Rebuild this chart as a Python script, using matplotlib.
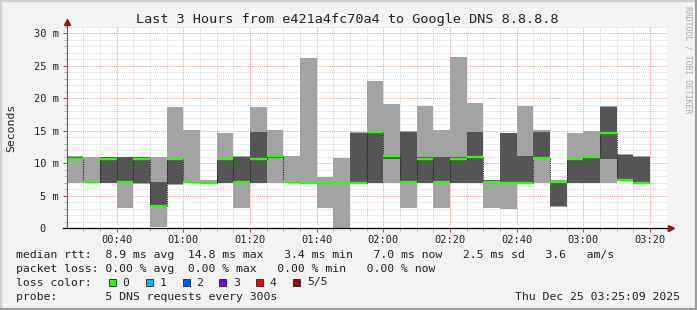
import matplotlib
matplotlib.use("Agg")
import matplotlib.pyplot as plt
from matplotlib.patches import Rectangle
from matplotlib.lines import Line2D

# 5-minute smoke bars, start of first step in minutes after midnight (00:25)
first_step = 25
step = 5
ping_min = [6.9, 7.0, 7.0, 3.1, 6.8, 0.2, 6.7, 7.0, 7.0, 7.0, 3.1, 6.9, 7.0, 7.0, 6.9, 3.1, 0.0, 6.9,
            7.0, 7.0, 3.1, 7.0, 3.1, 7.0, 7.0, 3.1, 2.9, 6.9, 7.0, 3.3, 6.9, 7.0, 7.0, 7.3, 6.9]
ping_lo = [10.6, 7.0, 7.0, 7.0, 6.9, 3.3, 6.8, 7.0, 7.0, 7.0, 7.0, 6.9, 10.8, 7.0, 6.9, 6.9, 6.9, 6.9,
           7.0, 10.6, 7.0, 7.0, 7.0, 7.0, 7.0, 7.0, 6.9, 6.9, 10.7, 3.4, 6.9, 7.0, 10.7, 7.3, 6.9]
median = [10.7, 7.1, 10.7, 7.1, 10.7, 3.4, 10.7, 7.1, 7.0, 10.7, 7.1, 10.7, 11.1, 7.1, 7.0, 7.0, 7.0, 7.0,
          14.8, 11.1, 7.1, 10.7, 7.1, 10.7, 11.0, 7.2, 7.0, 7.0, 10.8, 7.2, 10.7, 11.0, 14.7, 7.4, 7.0]
ping_hi = [10.9, 7.2, 10.9, 10.9, 10.9, 7.1, 10.8, 7.1, 7.1, 10.8, 10.9, 14.8, 11.2, 7.2, 7.1, 7.1, 7.1, 14.7,
           15.0, 11.2, 14.8, 11.0, 11.0, 11.0, 14.8, 7.4, 14.6, 11.1, 14.8, 7.3, 10.8, 11.1, 18.7, 11.3, 11.0]
ping_max = [11.1, 11.0, 11.0, 11.0, 11.0, 11.0, 18.7, 15.1, 7.4, 14.7, 11.1, 18.7, 15.2, 11.1, 26.2, 7.9, 10.8, 14.8,
            22.6, 19.1, 14.9, 18.8, 15.1, 26.4, 19.3, 7.5, 14.7, 18.8, 15.1, 7.4, 14.7, 14.9, 18.8, 11.4, 11.1]

x_major = [40, 60, 80, 100, 120, 140, 160, 180, 200]
x_labels = ["00:40", "01:00", "01:20", "01:40", "02:00", "02:20", "02:40", "03:00", "03:20"]
y_major = [0, 5, 10, 15, 20, 25, 30]
y_labels = ["0  ", "5 m", "10 m", "15 m", "20 m", "25 m", "30 m"]

loss_names = ["0", "1", "2", "3", "4", "5/5"]
loss_colors = ["#26ff00", "#00b8ff", "#0059ff", "#7e00ff", "#ff0000", "#a10000"]

title = "Last 3 Hours from e421a4fc70a4 to Google DNS 8.8.8.8"
legend_lines = [
    "median rtt:  8.9 ms avg  14.8 ms max   3.4 ms min   7.0 ms now   2.5 ms sd   3.6   am/s",
    "packet loss: 0.00 % avg  0.00 % max   0.00 % min   0.00 % now",
    "loss color:",
    "probe:       5 DNS requests every 300s",
]
stamp = "Thu Dec 25 03:25:09 2025"

W, H = 697, 310
mono = "DejaVu Sans Mono"


def fx(px):
    return px / W


def fy(py):
    return 1 - py / H


fig = plt.figure(figsize=(W / 100, H / 100), dpi=100, facecolor="#f3f3f3")
ax = fig.add_axes([fx(67), fy(228.3), 600 / W, 201.5 / H])
ax.set_facecolor("white")

starts = [first_step + step * i for i in range(len(median))]
light_h = [b - a for a, b in zip(ping_min, ping_max)]
dark_h = [b - a for a, b in zip(ping_lo, ping_hi)]
ax.bar(starts, light_h, bottom=ping_min, width=step, align="edge", color="#a3a3a3", lw=0, zorder=2)
ax.bar(starts, dark_h, bottom=ping_lo, width=step, align="edge", color="#555555", lw=0, zorder=3)
ax.vlines(starts[1:], median[:-1], median[1:], colors="#222222", lw=0.8,
          linestyles=(0, (1, 1)), zorder=4)
ax.hlines(median, starts, [s + step for s in starts], colors=loss_colors[0], lw=1.7, zorder=5)

ax.set_xlim(25.15, 205.15)
ax.set_ylim(0, 31)

# grid
for v in range(1, 32):
    if v % 5:
        ax.axhline(v, color="#d6d6d6", lw=0.7, ls=(0, (1, 1)), zorder=1)
for v in range(30, 206, 5):
    if v % 20:
        ax.axvline(v, color="#d6d6d6", lw=0.7, ls=(0, (1, 1)), zorder=1)
for v in y_major[1:]:
    ax.axhline(v, color="#f0a0a0", lw=0.7, ls=(0, (1, 1)), zorder=1)
for v in x_major:
    ax.axvline(v, color="#f0a0a0", lw=0.7, ls=(0, (1, 1)), zorder=1)

ax.set_xticks(x_major)
ax.set_xticklabels(x_labels, family=mono, fontsize=7.5, color="#222222")
ax.set_xticks(list(range(30, 206, 5)), minor=True)
ax.set_yticks(y_major)
ax.set_yticklabels(y_labels, family=mono, fontsize=7.5, color="#222222")
ax.set_yticks(list(range(0, 32)), minor=True)
ax.tick_params(which="major", length=3, width=0.7, color="#c04040", pad=3)
ax.tick_params(axis="x", which="major", pad=1.5)
ax.tick_params(which="minor", length=2, width=0.7, color="#b0b0b0")
for s in ax.spines.values():
    s.set_visible(False)

# axis lines with arrows
ax.add_line(Line2D([0, 0], [0, 1.02], transform=ax.transAxes, color="#606060", lw=0.8, clip_on=False, zorder=6))
ax.add_line(Line2D([-0.006, 1.003], [0, 0], transform=ax.transAxes, color="black", lw=0.9, clip_on=False, zorder=6))
ax.plot([0], [1.025], marker="^", ms=4, color="#a01010", transform=ax.transAxes, clip_on=False, zorder=7)
ax.plot([1.006], [0], marker=">", ms=4, color="#a01010", transform=ax.transAxes, clip_on=False, zorder=7)

fig.text(fx(11), fy(128), "Seconds", rotation=90, ha="center", va="center", family=mono, fontsize=8.25, color="#222222")
fig.text(fx(347.5), fy(19.5), title, ha="center", va="center", family=mono, fontsize=9.7, color="#222222")
fig.text(fx(688), fy(6), "RRDTOOL / TOBI OETIKER", rotation=270, ha="center", va="top", family=mono,
         fontsize=5.9, color="#aaaaaa")

line_y = [255, 268.5, 282.5, 296.5]
for txt, yy in zip(legend_lines, line_y):
    fig.text(fx(16), fy(yy), txt, ha="left", va="center", family=mono, fontsize=8.25, color="#222222")
fig.text(fx(680), fy(296.5), stamp, ha="right", va="center", family=mono, fontsize=8.25, color="#222222")

box_x = [109, 145.7, 182.7, 219.3, 256, 293.3]
for bx, name, col in zip(box_x, loss_names, loss_colors):
    fig.add_artist(Rectangle((fx(bx), fy(286)), 7 / W, 7 / H, transform=fig.transFigure,
                             facecolor=col, edgecolor="#222222", lw=0.6))
    fig.text(fx(bx + 13.5), fy(282.5), name, ha="left", va="center", family=mono, fontsize=8.25, color="#222222")

# image bevel border
fig.add_artist(Line2D([0, 1], [1, 1], transform=fig.transFigure, color="#d0d0d0", lw=2.5))
fig.add_artist(Line2D([0, 0], [0, 1], transform=fig.transFigure, color="#d0d0d0", lw=2.5))
fig.add_artist(Line2D([0, 1], [0, 0], transform=fig.transFigure, color="#9c9c9c", lw=3))
fig.add_artist(Line2D([1, 1], [0, 1], transform=fig.transFigure, color="#9c9c9c", lw=3))

fig.savefig("out.png", dpi=100, facecolor=fig.get_facecolor())
